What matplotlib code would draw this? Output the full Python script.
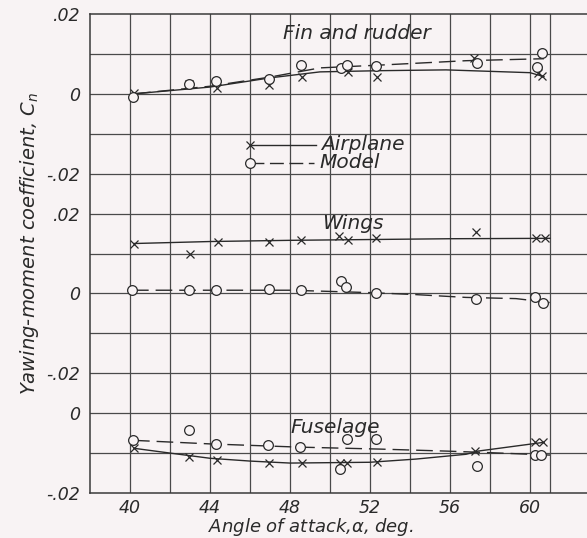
import numpy as np
import matplotlib.pyplot as plt
from matplotlib.transforms import blended_transform_factory

# Yawing-moment coefficient C_n vs angle of attack, three component panels
# stacked on one continuous grid (units of 0.01 on the global y axis)
PANEL_ZERO = {'fin': 10, 'wings': 5, 'fuselage': 2}

# --- Fin and rudder ---
fin_air_a = [40.2, 42.95, 44.35, 46.95, 48.6, 50.9, 52.35, 57.2, 60.4, 60.6]
fin_air_cn = [0.0002, 0.0025, 0.0015, 0.0022, 0.0043, 0.0055, 0.0043, 0.009, 0.0053, 0.0045]
fin_mod_a = [40.15, 42.95, 44.3, 46.95, 48.55, 50.55, 50.85, 52.3, 57.35, 60.6, 60.35]
fin_mod_cn = [-0.0008, 0.0025, 0.0033, 0.0038, 0.0073, 0.0065, 0.0073, 0.007, 0.0078, 0.0103, 0.0068]
fin_air_fair_a = [40.2, 44, 47, 49.5, 52.5, 55.8, 60, 60.7]
fin_air_fair_cn = [0.0, 0.0017, 0.004, 0.0055, 0.0058, 0.006, 0.0053, 0.0043]
fin_mod_fair_a = [40.2, 44, 47, 49.5, 52.5, 56.8, 60.7]
fin_mod_fair_cn = [0.0, 0.0019, 0.0042, 0.0065, 0.0072, 0.0083, 0.0088]

# --- Wings ---
wing_air_a = [40.2, 43.0, 44.4, 46.95, 48.55, 50.45, 50.9, 52.3, 57.3, 60.3, 60.75]
wing_air_cn = [0.0125, 0.0098, 0.013, 0.013, 0.0133, 0.0145, 0.0133, 0.0138, 0.0155, 0.0138, 0.0138]
wing_mod_a = [40.1, 42.95, 44.3, 46.95, 48.55, 50.55, 50.8, 52.3, 57.3, 60.25, 60.65]
wing_mod_cn = [0.0008, 0.0008, 0.0008, 0.001, 0.0008, 0.003, 0.0015, 0.0, -0.0015, -0.001, -0.0025]
wing_air_fair_a = [40.2, 44, 48, 52, 56, 61]
wing_air_fair_cn = [0.0125, 0.013, 0.0133, 0.0135, 0.0137, 0.0138]
wing_mod_fair_a = [40.1, 48, 52, 54.3, 56.8, 59.3, 61]
wing_mod_fair_cn = [0.0008, 0.0008, 0.0002, -0.0003, -0.001, -0.0013, -0.0023]

# --- Fuselage ---
fus_air_a = [40.2, 42.95, 44.35, 46.95, 48.6, 50.5, 50.85, 52.35, 57.25, 60.25, 60.65]
fus_air_cn = [-0.0088, -0.011, -0.0118, -0.0125, -0.0125, -0.0125, -0.0125, -0.0123, -0.0095, -0.0073, -0.0073]
fus_mod_a = [40.15, 42.95, 44.3, 46.9, 48.5, 50.85, 50.5, 52.3, 57.35, 60.25, 60.55]
fus_mod_cn = [-0.0068, -0.0043, -0.0078, -0.008, -0.0085, -0.0065, -0.014, -0.0065, -0.0133, -0.0105, -0.0105]
fus_air_fair_a = [40.2, 42, 44, 46, 48, 52, 54.3, 56.8, 57.4, 60.7]
fus_air_fair_cn = [-0.0088, -0.01, -0.0113, -0.012, -0.0125, -0.0123, -0.0115, -0.0103, -0.0095, -0.0073]
fus_mod_fair_a = [40.15, 44, 48.4, 52.5, 55.8, 57.5, 61]
fus_mod_fair_cn = [-0.0068, -0.0077, -0.0085, -0.009, -0.0095, -0.0098, -0.0105]

x_ticks = [40, 44, 48, 52, 56, 60]
y_tick_pos = [12, 10, 8, 7, 5, 3, 2, 0]
y_tick_lbl = ['.02', '0', '-.02', '.02', '0', '-.02', '0', '-.02']

INK = '#2a2a2a'
BG = '#f8f3f4'
FONT = dict(family='DejaVu Sans', style='italic', weight='light')


def g(panel, cn):
    # Cn value -> global grid coordinate
    return PANEL_ZERO[panel] + np.asarray(cn) * 100


fig = plt.figure(figsize=(5.87, 5.38), dpi=100, facecolor=BG)
ax = fig.add_axes([90 / 587, 45 / 538, 497 / 587, 479 / 538], facecolor=BG)
ax.set_xlim(38, 62.85)
ax.set_ylim(0, 12)

# grid
for xv in list(range(40, 62, 2)) + [61]:
    ax.axvline(xv, color='#4a4a4a', lw=0.9, zorder=1)
for yv in range(1, 12):
    ax.axhline(yv, color='#4a4a4a', lw=0.9, zorder=1)
for side in ['left', 'top', 'bottom']:
    ax.spines[side].set_color('#3a3a3a')
    ax.spines[side].set_linewidth(1.1)
ax.spines['right'].set_visible(False)

series = [
    ('fin', fin_air_a, fin_air_cn, fin_mod_a, fin_mod_cn,
     fin_air_fair_a, fin_air_fair_cn, fin_mod_fair_a, fin_mod_fair_cn),
    ('wings', wing_air_a, wing_air_cn, wing_mod_a, wing_mod_cn,
     wing_air_fair_a, wing_air_fair_cn, wing_mod_fair_a, wing_mod_fair_cn),
    ('fuselage', fus_air_a, fus_air_cn, fus_mod_a, fus_mod_cn,
     fus_air_fair_a, fus_air_fair_cn, fus_mod_fair_a, fus_mod_fair_cn),
]
for panel, aa, acn, ma, mcn, faa, facn, fma, fmcn in series:
    ax.plot(faa, g(panel, facn), color=INK, lw=1.0, zorder=3)
    ax.plot(fma, g(panel, fmcn), color=INK, lw=1.0, dashes=(12, 5), zorder=3)
    ax.plot(aa, g(panel, acn), ls='none', marker='x', ms=5.5, mew=0.9,
            color=INK, zorder=4)
    ax.plot(ma, g(panel, mcn), ls='none', marker='o', ms=7, mew=0.9,
            mfc=BG, mec=INK, zorder=4)

# legend, lettered on the grid like the original
ax.plot([46, 49.3], [8.72, 8.72], color=INK, lw=1.0, marker='x', ms=6,
        mew=0.9, markevery=[0], zorder=4)
ax.plot([46, 49.2], [8.27, 8.27], color=INK, lw=1.0, dashes=(10, 4),
        marker='o', ms=7, mew=0.9, mfc=BG, mec=INK, markevery=[0], zorder=4)
ax.text(49.55, 8.72, 'Airplane', fontsize=14.5, va='center', ha='left', color=INK, **FONT)
ax.text(49.45, 8.27, 'Model', fontsize=14.5, va='center', ha='left', color=INK, **FONT)

# panel titles
ax.text(47.65, 11.5, 'Fin and rudder', fontsize=14.5, ha='left', va='center', color=INK, **FONT)
ax.text(49.6, 6.75, 'Wings', fontsize=14.5, ha='left', va='center', color=INK, **FONT)
ax.text(48.0, 1.63, 'Fuselage', fontsize=14.5, ha='left', va='center', color=INK, **FONT)

ax.set_xticks(x_ticks)
ax.set_xticklabels([str(v) for v in x_ticks], fontsize=12.5, color=INK, **FONT)
ax.set_yticks(y_tick_pos)
ax.set_yticklabels(y_tick_lbl, fontsize=12.5, color=INK, **FONT)
ax.tick_params(axis='x', length=0, pad=4)
ax.tick_params(axis='y', length=0, pad=7)

trans = blended_transform_factory(ax.transData, fig.transFigure)
ax.text(49.05, 0.0, r'Angle of attack,$\alpha$, deg.', transform=trans,
        fontsize=13, ha='center', va='bottom', color=INK, **FONT)
fig.text(0.05, 0.547, r'Yawing-moment coefficient, $C_n$', rotation=90,
         fontsize=14, ha='center', va='center', color=INK, **FONT)

fig.savefig('out.png', dpi=100, facecolor=BG)
